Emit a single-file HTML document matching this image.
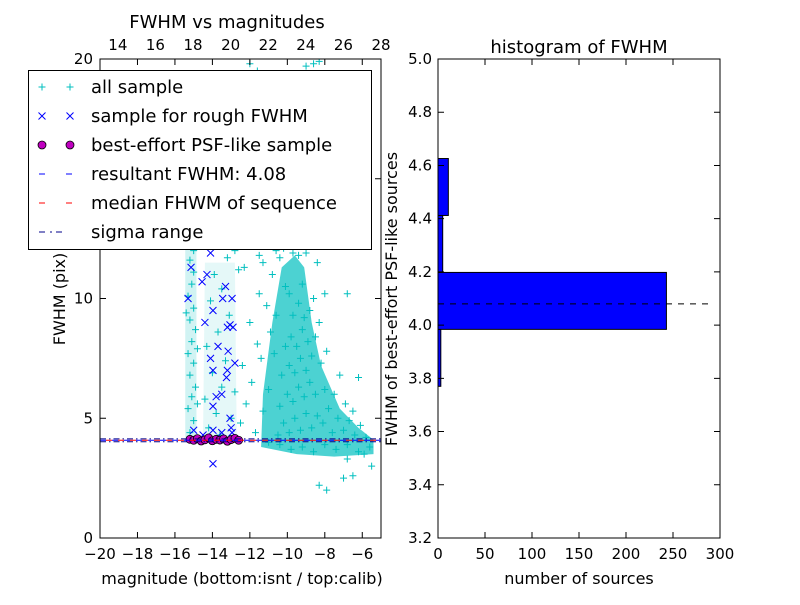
<!DOCTYPE html>
<html><head><meta charset="utf-8"><style>
body{margin:0;background:#fff;}
svg text{font-family:"DejaVu Sans","Liberation Sans",sans-serif;fill:#000;}
</style></head><body>
<svg id="fig" width="800" height="600" xmlns="http://www.w3.org/2000/svg">
<defs><clipPath id="lc"><rect x="100" y="59" width="281" height="479"/></clipPath></defs>
<rect width="800" height="600" fill="#fff"/>
<g id="left"></g>
<g id="right"></g>
</svg>
<script>
const allX=[-15.2,-15.0,-15.3,-15.1,-14.9,-15.2,-15.0,-15.3,-15.1,-14.9,-15.2,-15.0,-15.3,-15.1,-15.0,-15.2,-15.1,-15.3,-14.8,-14.8,-15.4,-15.0,
-14.2,-13.8,-14.4,-13.5,-14.0,-13.3,-14.3,-13.7,-13.1,-14.1,-13.5,-13.9,-13.2,-14.4,-13.0,-12.8,-13.6,
-12.5,-12.2,-11.9,-12.4,-11.6,-12.0,-11.5,-12.3,-11.8,-11.2,-11.7,-11.3,-11.0,-11.4,-10.9,-11.1,-10.8,-10.6,-10.3,-9.8,-9.4,-10.1,
-10.5,-10.2,-9.9,-9.6,-9.3,-9.0,-8.7,-8.4,-10.4,-10.0,-9.7,-9.4,-9.1,-8.8,-8.5,-10.3,-9.9,-9.6,-9.3,-9.0,-8.7,-10.1,-9.8,-9.5,-9.2,-8.9,-9.7,-9.4,-9.1,-9.9,-9.2,-8.8,-8.5,-8.2,-8.0,-7.8,-8.1,-7.6,-7.3,-7.0,-6.7,-6.4,-6.1,-5.8,-5.6,-6.2,-6.8,-7.4,-8.0,-8.6,-9.2,-9.8,-10.4,-11.0,-7.5,-7.2,-6.9,-6.5,-7.9,-8.3,-8.6,-8.0,-10.7,-10.6,-8.4,-8.9,
-12.0,-11.6,-9.0,-8.6,-8.3,-11.2,-10.0,-9.3,-10.5,-8.8,-12.5,
-8.3,-7.9,-7.0,-6.5,-5.5,-6.8,-6.8,-6.2,-5.9,
-12.8,-12.2,-11.5,-10.9,-10.2,-9.6,-9.0,-8.5,-11.9,-11.0,-10.4,-9.7,-8.9,-12.6,-11.3,-10.7];
const allY=[4.4,4.9,5.4,5.9,6.3,6.8,7.3,7.7,8.2,8.7,9.1,9.6,10.1,10.6,11.1,11.6,12.2,12.8,7.9,5.6,9.4,12.0,
4.6,5.2,5.8,6.3,6.9,7.4,8.0,8.6,9.3,9.9,10.4,11.0,11.7,12.4,5.0,6.1,4.3,
4.8,5.6,6.5,7.2,8.1,9.0,10.2,11.3,12.4,13.2,4.4,5.3,6.2,7.5,8.6,9.7,11.0,12.0,13.0,12.6,11.8,10.5,
4.3,4.8,4.4,5.0,4.5,5.2,4.6,5.1,5.5,6.0,5.7,6.3,5.9,6.5,6.0,6.8,7.2,6.9,7.5,7.0,7.6,8.0,8.4,8.0,8.7,8.2,9.3,9.8,9.2,10.2,10.6,9.5,8.4,7.3,6.2,5.4,4.8,4.4,5.0,4.5,4.9,4.3,4.7,4.2,3.8,3.6,3.9,3.7,3.9,3.6,3.8,3.7,3.9,4.0,6.0,6.8,5.6,5.3,7.8,9.0,10.0,10.2,7.7,9.3,11.5,12.3,
19.8,19.5,19.7,19.8,19.9,17.5,16.0,15.5,14.5,14.0,13.5,
2.2,2.0,2.5,2.6,3.0,3.3,10.2,6.7,3.5,
12.0,12.3,11.8,12.5,12.1,12.4,11.9,12.2,12.8,12.9,11.7,11.9,12.6,11.2,11.5,12.7];
const roughX=[-15.14,-14.29,-14.55,-15.3,-12.95,-13.3,-13.45,-13.97,-14.4,-13.06,-13.2,-12.9,-13.7,-13.16,-14.1,-12.8,-13.97,-13.2,-13.25,-13.5,-13.8,-13.97,-13.06,-15.0,-13.97,-12.95,-13.97,-14.3,-14.1,-15.4,-13.0,-14.5,-13.5];
const roughY=[11.3,11.0,10.7,10.0,10.0,10.5,10.0,9.5,9.0,8.9,8.8,8.8,8.0,7.8,7.5,7.3,7.0,7.0,6.7,6.0,5.9,5.5,5.0,4.5,4.5,4.4,3.1,12.2,11.9,12.6,4.6,4.3,4.4];
const bestX=[-15.2,-15.0,-14.8,-14.6,-14.4,-14.2,-14.0,-13.8,-13.6,-13.4,-13.2,-13.0,-12.8,-12.6];
const bestY=[4.12,4.08,4.15,4.05,4.1,4.18,4.06,4.12,4.09,4.14,4.04,4.11,4.16,4.08];
const resultFWHM=4.08, medianFWHM=4.08, sigmaLo=4.02, sigmaHi=4.14;
const binEdges=[3.77,3.984,4.198,4.412,4.626];
const binCounts=[3,243,5,11];
const bottomTicks=[-20,-18,-16,-14,-12,-10,-8,-6];
const topTicks=[14,16,18,20,22,24,26,28];
const leftYTicks=[0,5,10,15,20];
const histXTicks=[0,50,100,150,200,250,300];
const histYTicks=[3.2,3.4,3.6,3.8,4.0,4.2,4.4,4.6,4.8,5.0];

const NS="http://www.w3.org/2000/svg";
function mk(parent,tag,attrs,txt){const e=document.createElementNS(NS,tag);for(const k in attrs)e.setAttribute(k,attrs[k]);if(txt!==undefined)e.textContent=txt;parent.appendChild(e);return e;}
const L=document.getElementById('left'), R=document.getElementById('right');
const lx=v=>100+(v+20)*281/15, ly=v=>538-v*479/20;
const tx=v=>100+(v-13.05)*281/14.95;
const hx=v=>438+v*282/300, hy=v=>538-(v-3.2)*479/1.8;
const fmt=v=>(v<0?'\u2212':'')+Math.abs(v);

const pts=mk(L,'g',{'clip-path':'url(#lc)'});
const blobs=[
 [[-11.4,3.8],[-11.3,6],[-10.8,9],[-10.3,11.3],[-9.6,11.8],[-9.1,11.3],[-8.7,9],[-8.2,7.2],[-7.2,5.4],[-6.2,4.6],[-5.4,4.1],[-5.4,3.5],[-7.5,3.4],[-9.5,3.5]],
 [[-15.45,4.2],[-15.45,12.8],[-14.85,12.8],[-14.85,4.2]],
 [[-14.5,4.2],[-14.4,11.5],[-12.8,11.5],[-12.7,4.2]]];
const ops=[0.7,0.18,0.1];
blobs.forEach((b,i)=>{const bp=mk(pts,'polygon',{points:b.map(p=>lx(p[0])+','+ly(p[1])).join(' '),fill:'#00BFBF','fill-opacity':ops[i]});
 
 });
allX.forEach((x,i)=>{const X=lx(x),Y=ly(allY[i]);
 const p=mk(pts,'path',{d:`M${X-3.5},${Y}H${X+3.5}M${X},${Y-3.5}V${Y+3.5}`,stroke:'#00BFBF','stroke-width':1});
 
 });
roughX.forEach((x,i)=>{const X=lx(x),Y=ly(roughY[i]);
 const p=mk(pts,'path',{d:`M${X-3.5},${Y-3.5}L${X+3.5},${Y+3.5}M${X-3.5},${Y+3.5}L${X+3.5},${Y-3.5}`,stroke:'#0000FF','stroke-width':1});
 
 });
bestX.forEach((x,i)=>{const c=mk(pts,'circle',{cx:lx(x),cy:ly(bestY[i]),r:4,fill:'#BF00BF',stroke:'#000','stroke-width':0.8});
 
 });
let ln=mk(pts,'line',{x1:100,x2:381,y1:ly(sigmaLo),y2:ly(sigmaLo),stroke:'#00008B','stroke-dasharray':'6,3,1.5,3'});

ln=mk(pts,'line',{x1:100,x2:381,y1:ly(sigmaHi),y2:ly(sigmaHi),stroke:'#00008B','stroke-dasharray':'6,3,1.5,3'});

ln=mk(pts,'line',{x1:100,x2:381,y1:ly(medianFWHM),y2:ly(medianFWHM),stroke:'#FF0000','stroke-dasharray':'6,6','stroke-dashoffset':6});

ln=mk(pts,'line',{x1:100,x2:381,y1:ly(resultFWHM),y2:ly(resultFWHM),stroke:'#0000FF','stroke-dasharray':'6,6'});


mk(L,'rect',{x:100,y:59,width:281,height:479,fill:'none',stroke:'#000','stroke-width':1});
bottomTicks.forEach(v=>{const X=lx(v);mk(L,'path',{d:`M${X},538v-6M${X},59v6`,stroke:'#000'});
 const t=mk(L,'text',{x:X,y:559,'text-anchor':'middle','font-size':15},fmt(v));});
topTicks.forEach(v=>{const X=tx(v);
 const t=mk(L,'text',{x:X,y:50,'text-anchor':'middle','font-size':15},v);});
leftYTicks.forEach(v=>{const Y=ly(v);mk(L,'path',{d:`M100,${Y}h6M381,${Y}h-6`,stroke:'#000'});
 const t=mk(L,'text',{x:93,y:Y+5,'text-anchor':'end','font-size':15},v);});
let t=mk(L,'text',{x:227,y:28,'text-anchor':'middle','font-size':18},'FWHM vs magnitudes');
t=mk(L,'text',{x:242,y:584,'text-anchor':'middle','font-size':16},'magnitude (bottom:isnt / top:calib)');
t=mk(L,'text',{x:0,y:0,'text-anchor':'middle','font-size':16,transform:'translate(65,299) rotate(-90)'},'FWHM (pix)');

const lg=mk(L,'g',{});
mk(lg,'rect',{x:28.5,y:70.5,width:343,height:179,fill:'#fff',stroke:'#000'});
const labels=['all sample','sample for rough FWHM','best-effort PSF-like sample','resultant FWHM: 4.08','median FHWM of sequence','sigma range'];
labels.forEach((s,i)=>{const Y=87+i*29;
 [42,70].forEach(X=>{
  if(i==0)mk(lg,'path',{d:`M${X-3.5},${Y}H${X+3.5}M${X},${Y-3.5}V${Y+3.5}`,stroke:'#00BFBF'});
  if(i==1)mk(lg,'path',{d:`M${X-3.5},${Y-3.5}L${X+3.5},${Y+3.5}M${X-3.5},${Y+3.5}L${X+3.5},${Y-3.5}`,stroke:'#0000FF'});
  if(i==2)mk(lg,'circle',{cx:X,cy:Y,r:4,fill:'#BF00BF',stroke:'#000','stroke-width':0.8});
 });
 if(i==3)mk(lg,'path',{d:`M39,${Y}h6M66,${Y}h6`,stroke:'#0000FF'});
 if(i==4)mk(lg,'path',{d:`M39,${Y}h6M66,${Y}h6`,stroke:'#FF0000'});
 if(i==5)mk(lg,'path',{d:`M39,${Y}h6M50,${Y}h2M56,${Y}h6`,stroke:'#00008B'});
 const e=mk(lg,'text',{x:91,y:Y+6,'font-size':18},s);});

binCounts.forEach((c,i)=>{const y1=hy(binEdges[i+1]),y0=hy(binEdges[i]);
 const r=mk(R,'rect',{x:438,y:y1,width:hx(c)-438,height:y0-y1,fill:'#0000FF',stroke:'#000','stroke-width':1});
 });
ln=mk(R,'line',{x1:438,x2:hx(290),y1:hy(resultFWHM),y2:hy(resultFWHM),stroke:'#000','stroke-dasharray':'6,6'});

mk(R,'rect',{x:438,y:59,width:282,height:479,fill:'none',stroke:'#000'});
histXTicks.forEach(v=>{const X=hx(v);mk(R,'path',{d:`M${X},538v-6M${X},59v6`,stroke:'#000'});
 const e=mk(R,'text',{x:X,y:559,'text-anchor':'middle','font-size':15},v);});
histYTicks.forEach(v=>{const Y=hy(v);mk(R,'path',{d:`M438,${Y}h6M720,${Y}h-6`,stroke:'#000'});
 const e=mk(R,'text',{x:432,y:Y+5,'text-anchor':'end','font-size':15},v.toFixed(1));});
t=mk(R,'text',{x:579,y:53,'text-anchor':'middle','font-size':18},'histogram of FWHM');
t=mk(R,'text',{x:579,y:584,'text-anchor':'middle','font-size':16},'number of sources');
t=mk(R,'text',{x:0,y:0,'text-anchor':'middle','font-size':16,transform:'translate(397,299) rotate(-90)'},'FWHM of best-effort PSF-like sources');
</script>
</body></html>
